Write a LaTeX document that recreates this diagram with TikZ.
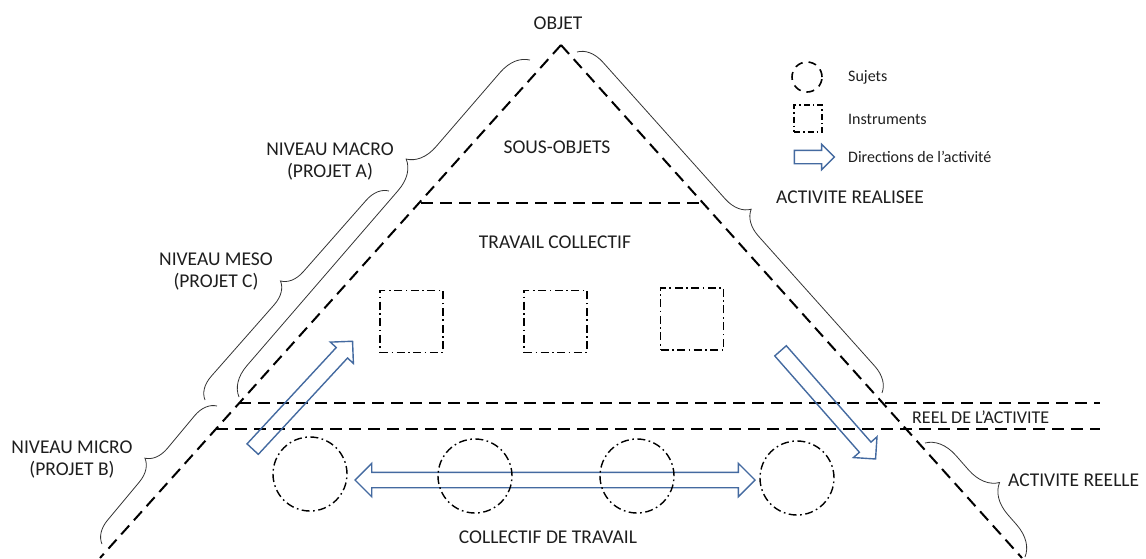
\documentclass[tikz,border=0pt]{standalone}
\usepackage{fontspec}
\setmainfont{Carlito}
\usetikzlibrary{decorations.pathreplacing,shapes.arrows}
\definecolor{arrowblue}{RGB}{68,106,160}
\definecolor{txt}{RGB}{30,30,30}
\begin{document}
\begin{tikzpicture}[x=1pt,y=-1pt,
  side/.style={line width=2pt, dash pattern=on 12pt off 7pt},
  dashdot/.style={line width=1.4pt, dash pattern=on 8pt off 3.5pt on 1.6pt off 3.5pt},
  wbrace/.style={decorate, line width=0.8pt, draw=black!80},
  lbl/.style={font=\fontsize{19.5}{22}\selectfont, text=txt, inner sep=0pt, align=center},
  leg/.style={font=\fontsize{16}{19}\selectfont, text=txt, inner sep=0pt, anchor=west},
  subj/.style={circle, draw, dashdot, minimum size=74pt, inner sep=0pt},
  instr/.style={rectangle, draw, dashdot, minimum width=63pt, minimum height=62pt, inner sep=0pt},
  blockarrow/.style={draw=arrowblue, line width=1.4pt, single arrow, single arrow head extend=8pt, inner sep=7pt, minimum height=#1},
  dblarrow/.style={draw=arrowblue, line width=1.4pt, double arrow, double arrow head extend=9pt, inner sep=7pt, minimum height=#1}
]
\useasboundingbox (0,0) rectangle (1146,558);

% triangle sides
\coordinate (apex) at (561,45);
\coordinate (bl) at (100,558);
\coordinate (br) at (1022,558);
\draw[side] (apex) -- (bl);
\draw[side] (apex) -- (br);

% horizontal levels
\coordinate (so1) at (421,203);
\coordinate (so2) at (704,203);
\draw[side] (so1) -- (so2);
\coordinate (r1a) at (239,403);
\coordinate (r1b) at (1100,403);
\coordinate (r2a) at (216,429);
\coordinate (r2b) at (1100,429);
\draw[side] (r1a) -- (r1b);
\draw[side] (r2a) -- (r2b);

% labels
\node[lbl] (objet) at (558,23) {OBJET};
\node[lbl] (sousobj) at (557,147) {SOUS-OBJETS};
\node[lbl] (travcoll) at (555,242) {TRAVAIL COLLECTIF};
\node[lbl] (colltrav) at (548,537) {COLLECTIF DE TRAVAIL};
\node[lbl] (macro) at (330,162) {NIVEAU MACRO\\(PROJET A)};
\node[lbl] (meso) at (216,272) {NIVEAU MESO\\(PROJET C)};
\node[lbl] (micro) at (72,460) {NIVEAU MICRO\\(PROJET B)};
\node[lbl, anchor=west] (realisee) at (776,197) {ACTIVITE REALISEE};
\node[lbl, anchor=west, font=\fontsize{18}{21}\selectfont] (reel) at (912,417) {REEL DE L’ACTIVITE};
\node[lbl, anchor=west] (reelle) at (1008,480) {ACTIVITE REELLE};

% braces, left side (drawn bottom to top)
\coordinate (macB) at (239,397);
\coordinate (macT) at (530,60);
\draw[wbrace, decoration={brace, amplitude=29pt, aspect=0.65}] (macB) -- (macT);
\coordinate (mesB) at (205,400);
\coordinate (mesT) at (389,191);
\draw[wbrace, decoration={brace, amplitude=22pt, aspect=0.5}] (mesB) -- (mesT);
\coordinate (micB) at (102,544);
\coordinate (micT) at (217,406);
\draw[wbrace, decoration={brace, amplitude=22pt, aspect=0.52}] (micB) -- (micT);
% braces, right side (drawn top to bottom)
\coordinate (reaT) at (577,52);
\coordinate (reaB) at (882,393);
\draw[wbrace, decoration={brace, amplitude=25pt, aspect=0.51}] (reaT) -- (reaB);
\coordinate (relT) at (925,443);
\coordinate (relB) at (1025,557);
\draw[wbrace, decoration={brace, amplitude=30pt, aspect=0.52}] (relT) -- (relB);

% instruments
\node[instr] (i1) at (411.5,321.5) {};
\node[instr] (i2) at (555.5,321.5) {};
\node[instr] (i3) at (692,319) {};

% activity arrows
\node[dblarrow=400pt] (hor) at (555,480) {};
\node[blockarrow=147pt, rotate=47.2] (diagL) at (300,398) {};
\node[blockarrow=144pt, rotate=-48.7] (diagR) at (825.5,402) {};

% subjects
\node[subj] (s1) at (310,474) {};
\node[subj] (s2) at (475,476) {};
\node[subj] (s3) at (637,476) {};
\node[subj] (s4) at (797,478) {};

% legend
\node[circle, draw, line width=1.6pt, dash pattern=on 8pt off 6pt, minimum width=28pt, minimum height=30pt, inner sep=0pt] (legS) at (807,77) {};
\node[leg] (legSt) at (848,77) {Sujets};
\node[rectangle, draw, line width=1.2pt, dash pattern=on 6pt off 3pt on 1.5pt off 3pt, minimum width=28pt, minimum height=27pt, inner sep=0pt] (legI) at (808,118.5) {};
\node[leg] (legIt) at (848,119) {Instruments};
\node[draw=arrowblue, line width=1.4pt, single arrow, single arrow head extend=6pt, inner sep=6pt, minimum height=40pt] (legA) at (811,157) {};
\node[leg] (legAt) at (848,157) {Directions de l’activité};
\end{tikzpicture}
\end{document}
